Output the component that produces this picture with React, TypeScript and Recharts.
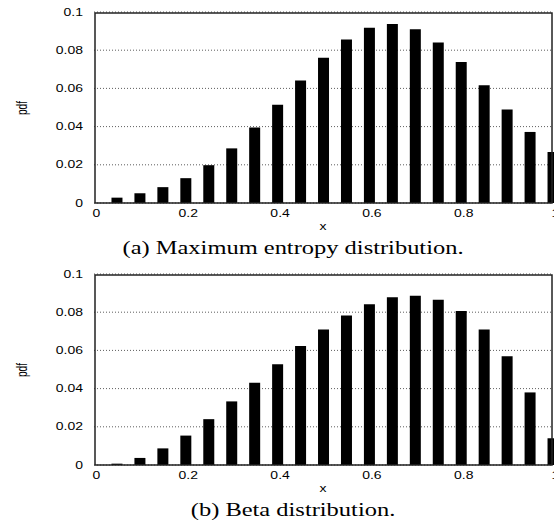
import React from 'react';
import { BarChart, Bar, XAxis, YAxis, CartesianGrid } from 'recharts';

const xValues = [0.05, 0.1, 0.15, 0.2, 0.25, 0.3, 0.35, 0.4, 0.45, 0.5, 0.55, 0.6, 0.65, 0.7, 0.75, 0.8, 0.85, 0.9, 0.95, 1.0];
const maxEntropyPdf = [0.0028, 0.0051, 0.0083, 0.013, 0.0198, 0.0286, 0.0395, 0.0514, 0.0642, 0.076, 0.0856, 0.0917, 0.0937, 0.091, 0.084, 0.0738, 0.0616, 0.049, 0.0372, 0.0267];
const betaPdf = [0.0007, 0.0037, 0.0087, 0.0154, 0.024, 0.0333, 0.0431, 0.0527, 0.0623, 0.0709, 0.0783, 0.0841, 0.0878, 0.0886, 0.0865, 0.0806, 0.0709, 0.0569, 0.038, 0.014];
const xTicks = [0, 0.2, 0.4, 0.6, 0.8, 1];
const xTickLabels = ['0', '0.2', '0.4', '0.6', '0.8', '1'];
const xTopTicks = [0.2, 0.4, 0.6, 0.8];
const yTicks = [0, 0.02, 0.04, 0.06, 0.08, 0.1];
const yTickLabels = ['0', '0.02', '0.04', '0.06', '0.08', '0.1'];
const captions = ['(a) Maximum entropy distribution.', '(b) Beta distribution.'];

const SX = 1.4;
const sans = 'Liberation Sans, Arial, sans-serif';
const serif = 'Liberation Serif, Times New Roman, serif';

const XTick = (props: any) => {
  const { x, y, payload } = props;
  const i = xTicks.indexOf(payload.value);
  return (
    <text transform={`translate(${x + 2.5},${y + 10}) scale(${SX},1)`} textAnchor="middle" dy="0.35em" fontFamily={sans} fontSize={10} fill="#000">
      {xTickLabels[i] ?? String(payload.value)}
    </text>
  );
};

const YTick = (props: any) => {
  const { y, payload } = props;
  const i = yTicks.indexOf(payload.value);
  return (
    <text transform={`translate(83,${y}) scale(${SX},1)`} textAnchor="end" dy="0.35em" fontFamily={sans} fontSize={10} fill="#000">
      {yTickLabels[i] ?? String(payload.value)}
    </text>
  );
};

const W = 600;
const H = 262;
const M = { top: 12, right: 47, bottom: 39, left: 0 };
const Y_LABEL_W = 94;
const EDGE = 1;
const X_AXIS_H = 20;
const PLOT = {
  left: M.left + Y_LABEL_W + EDGE,
  top: M.top + EDGE,
  right: W - M.right - EDGE,
  bottom: H - M.bottom - X_AXIS_H,
};

const tickLine = { stroke: '#222', strokeWidth: 1.3 };

function Panel({ values, caption }: { values: number[]; caption: string }) {
  const data = xValues.map((x, i) => ({ x, pdf: values[i] }));
  return (
    <div style={{ position: 'relative', width: W, height: H }}>
      <BarChart width={W} height={H} data={data} margin={M}>
        <CartesianGrid horizontal vertical={false} stroke="#333" strokeDasharray="1 2" strokeWidth={0.8} />
        <XAxis dataKey="x" type="number" domain={[0, 1]} ticks={xTicks} height={X_AXIS_H} tickSize={0} tickMargin={0} tick={<XTick />} axisLine={false} tickLine={false} interval={0} />
        <XAxis xAxisId="t" orientation="top" mirror dataKey="x" type="number" domain={[0, 1]} ticks={xTopTicks} height={EDGE} tickSize={5} tick={false} axisLine={false} tickLine={tickLine} interval={0} />
        <YAxis type="number" domain={[0, 0.1]} ticks={yTicks} width={Y_LABEL_W} tickSize={0} tick={<YTick />} axisLine={false} tickLine={false} interval={0} />
        <YAxis yAxisId="l" orientation="left" mirror type="number" domain={[0, 0.1]} ticks={yTicks.slice(1, -1)} width={EDGE} tickSize={5} tick={false} axisLine={false} tickLine={tickLine} interval={0} />
        <YAxis yAxisId="r" orientation="right" mirror type="number" domain={[0, 0.1]} ticks={yTicks.slice(1, -1)} width={EDGE} tickSize={5} tick={false} axisLine={false} tickLine={tickLine} interval={0} />
        <Bar dataKey="pdf" fill="#000" barSize={11} isAnimationActive={false} />
      </BarChart>
      <svg width={W} height={H} style={{ position: 'absolute', left: 0, top: 0, pointerEvents: 'none' }}>
        <rect x={PLOT.left} y={PLOT.top} width={PLOT.right - PLOT.left} height={PLOT.bottom - PLOT.top} fill="none" stroke="#222" strokeWidth={1.5} />
        <text transform={`translate(323,226) scale(${SX},1)`} textAnchor="middle" dy="0.35em" fontFamily={sans} fontSize={10} fill="#000">x</text>
        <text transform={`translate(22,108) scale(${SX},1) rotate(-90)`} textAnchor="middle" dy="0.35em" fontFamily={sans} fontSize={10} fill="#000">pdf</text>
        <text transform={`translate(293,254) scale(1.36,1)`} textAnchor="middle" fontFamily={serif} fontSize={18} fill="#000">{caption}</text>
      </svg>
    </div>
  );
}

export default function App() {
  return (
    <div style={{ position: 'absolute', left: 0, top: 0, width: 554, height: 522, overflow: 'hidden', background: '#fff' }}>
      <Panel values={maxEntropyPdf} caption={captions[0]} />
      <Panel values={betaPdf} caption={captions[1]} />
    </div>
  );
}
